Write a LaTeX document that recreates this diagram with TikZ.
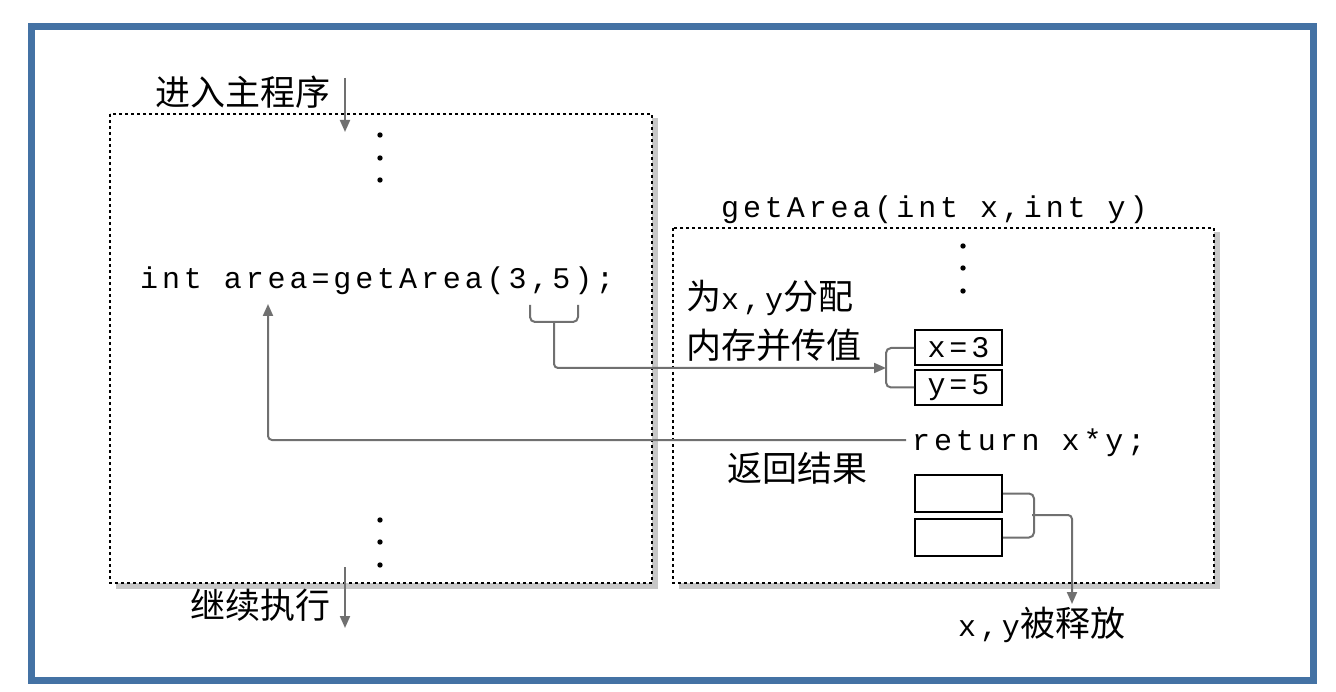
\documentclass[tikz,border=0pt]{standalone}
\usepackage{fontspec}
\usepackage{tikz}
\usepackage{xcolor}
\usetikzlibrary{arrows.meta}
\newfontfamily\cjk{Noto Sans CJK SC}
\newfontfamily\code[LetterSpace=13]{Liberation Mono}
\newcommand{\monotext}{\code\fontsize{30}{34}\selectfont}
\definecolor{frameblue}{RGB}{68,114,164}
\definecolor{linegray}{RGB}{112,112,112}

\begin{document}
\begin{tikzpicture}[x=1pt,y=-1pt]
\tikzstyle{every node}+=[inner sep=0pt]
\tikzstyle{cjktext}=[font=\cjk\fontsize{35}{40}\selectfont]
\tikzstyle{codetext}=[font=\monotext]
\tikzstyle{dotbox}=[draw=black, dash pattern=on 3pt off 3pt, line width=2.5pt]
\tikzstyle{shadowfill}=[fill=black!22]
\tikzstyle{cell}=[draw, line width=2pt, minimum width=87pt, minimum height=35pt, codetext]
\tikzstyle{flow}=[draw=linegray, line width=2pt, rounded corners=4pt, -{Triangle[length=12pt,width=10pt]}]
\tikzstyle{link}=[draw=linegray, line width=2pt, rounded corners=5pt]
\fill[white] (0,0) rectangle (1336,692);
\useasboundingbox (0,0) rectangle (1336,692);
\draw[frameblue, line width=7pt] (31.5,27) rectangle (1313.5,680.5);
\fill[shadowfill] (652,118) rectangle (658,589);
\fill[shadowfill] (116,583) rectangle (658,589);
\draw[dotbox] (110,114) rectangle (652,583);
\fill[shadowfill] (1214,232) rectangle (1220,589);
\fill[shadowfill] (679,583) rectangle (1220,589);
\draw[dotbox] (673,228) rectangle (1214,583);
\foreach \y in {135,158,180} \fill (380,\y) circle (2.7pt);
\foreach \y in {520,542,565} \fill (380,\y) circle (2.7pt);
\foreach \y in {246,268,291} \fill (963,\y) circle (2.7pt);
\node[cjktext] (enter) at (243,92) {进入主程序};
\node[cjktext] (resume) at (260,605) {继续执行};
\node[codetext, anchor=base west] (call) at (140,289) {int area=getArea(3,5);};
\node[codetext, anchor=base west] (sig) at (721,218) {getArea(int x,int y)};
\node[cjktext, anchor=west] (alloc) at (686,298) {为{\monotext x,y}分配};
\node[cjktext, anchor=west] (alloctwo) at (686,345) {内存并传值};
\node[codetext, anchor=base west] (ret) at (912,450) {return x*y;};
\node[cjktext] (retlabel) at (797,468) {返回结果};
\node[cjktext, anchor=west] (freed) at (958,625) {{\monotext x,y}被释放};
\node[cell] (cx) at (958.5,348) {x=3};
\node[cell] (cy) at (958.5,387.5) {y=5};
\node[cell, minimum height=37pt] (cu) at (958.5,493.5) {};
\node[cell, minimum height=37pt] (cv) at (958.5,537.5) {};
\coordinate (inTop) at (345,78);
\coordinate (inEnd) at (345,132);
\coordinate (outTop) at (345,567);
\coordinate (outEnd) at (345,628);
\coordinate (argL) at (530,305);
\coordinate (argR) at (578,305);
\coordinate (argM) at (554,322);
\coordinate (cellJoin) at (886,368);
\coordinate (retStart) at (906,440);
\coordinate (retEnd) at (268,304);
\coordinate (freeJoin) at (1032,515);
\coordinate (freeEnd) at (1072,604);
\draw[flow] (inTop) -- (inEnd);
\draw[flow] (outTop) -- (outEnd);
\draw[link] (argL) |- (argM) -| (argR);
\draw[flow] (argM) |- (cellJoin);
\draw[link] (cx.west) -- ++(-28,0) |- (cy.west);
\draw[flow] (retStart) -| (retEnd);
\draw[link] (cu.east) -- ++(31,0) |- (cv.east);
\draw[flow] (freeJoin) -| (freeEnd);
\end{tikzpicture}
\end{document}
